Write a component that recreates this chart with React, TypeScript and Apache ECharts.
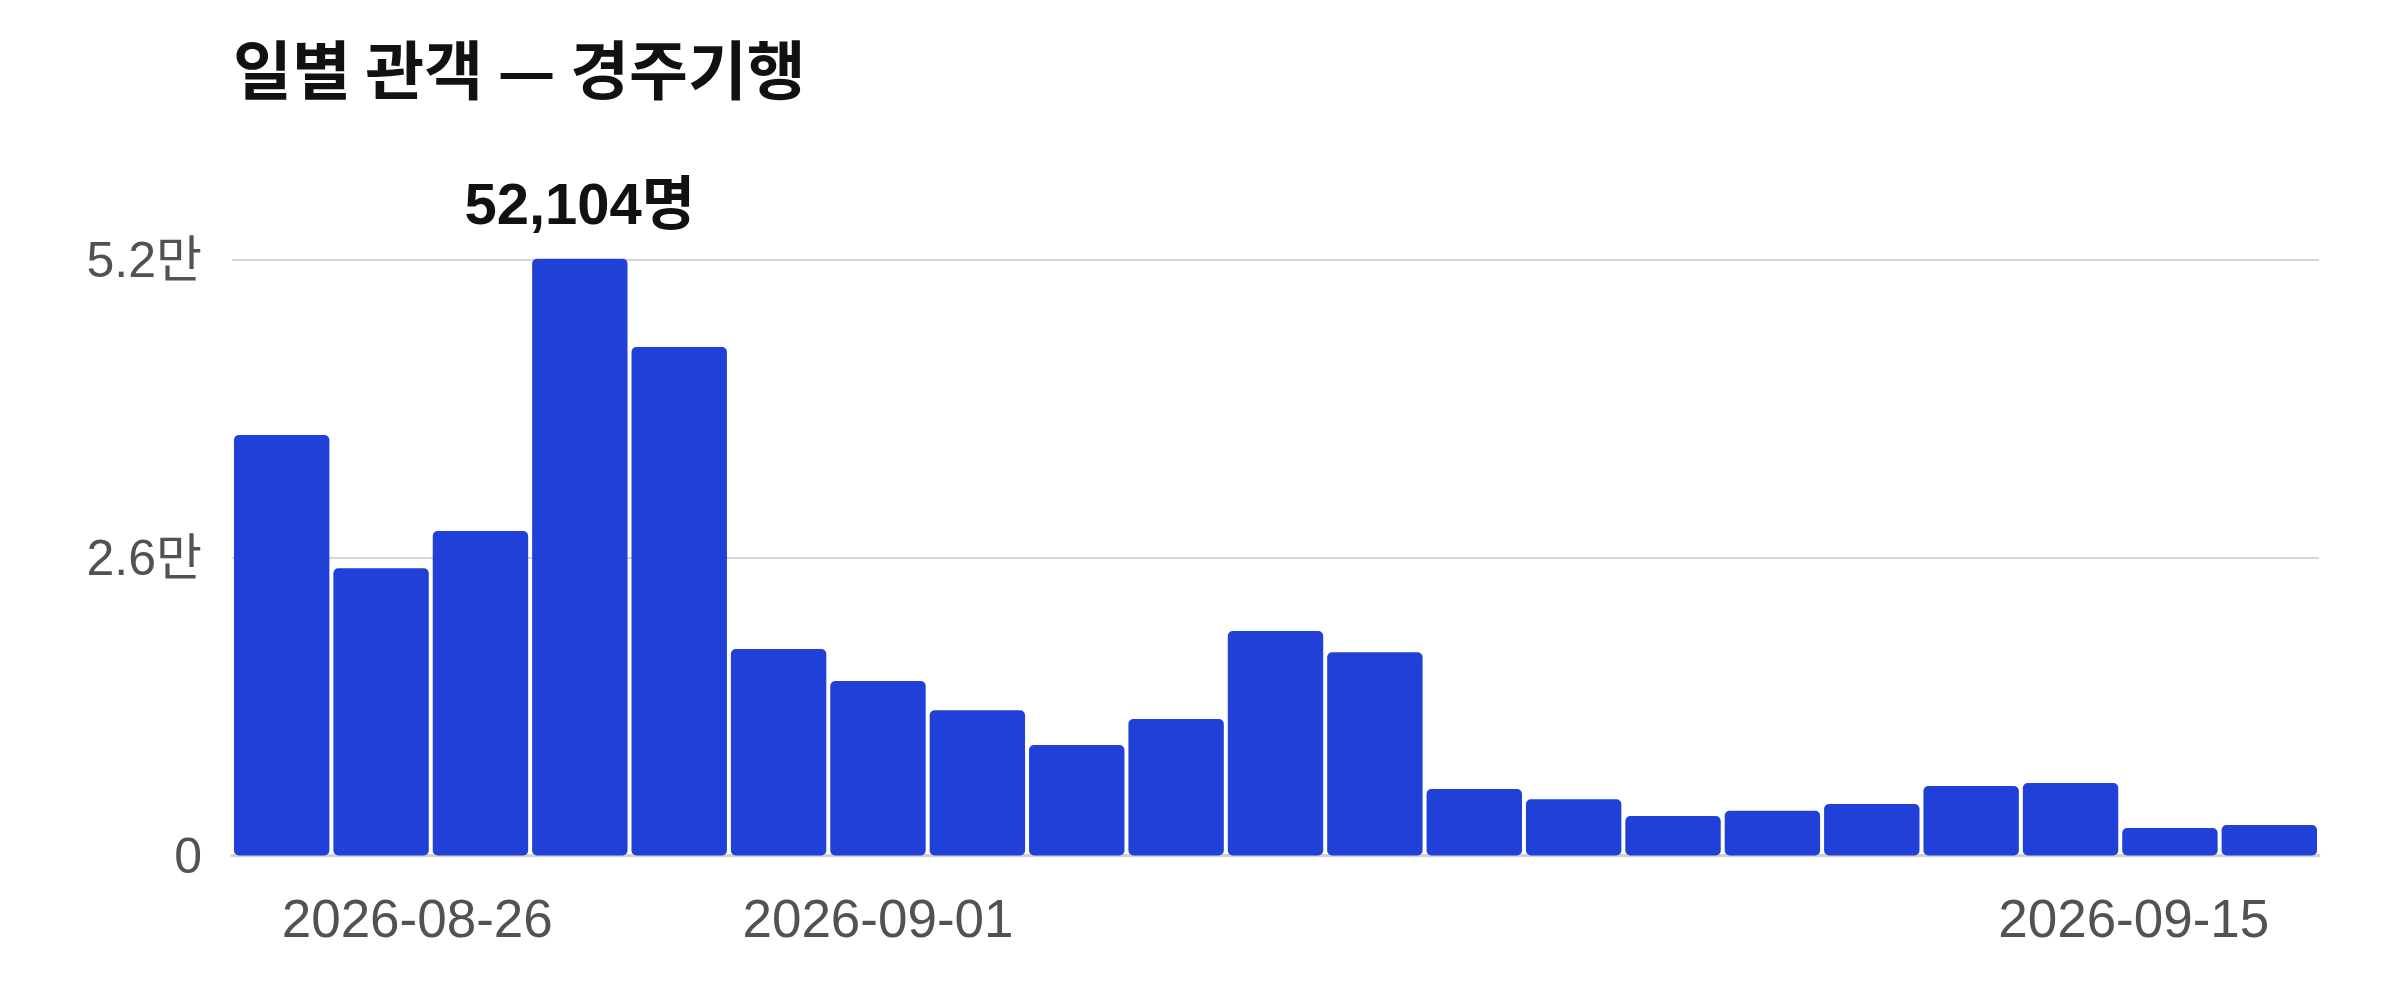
import React, { useEffect, useRef } from "react";
import * as echarts from "echarts";

const titleText = "일별 관객 — 경주기행";
const dates = [
  "2026-08-26", "2026-08-27", "2026-08-28", "2026-08-29", "2026-08-30", "2026-08-31",
  "2026-09-01", "2026-09-02", "2026-09-03", "2026-09-04", "2026-09-05", "2026-09-06",
  "2026-09-07", "2026-09-08", "2026-09-09", "2026-09-10", "2026-09-11", "2026-09-12",
  "2026-09-13", "2026-09-14", "2026-09-15",
];
const visitors = [
  36720, 25080, 28340, 52104, 44400, 18030, 15240, 12680, 9650, 11920, 19600,
  17740, 5810, 4910, 3450, 3910, 4500, 6070, 6330, 2400, 2660,
];
const shownDateIdx = [0, 6, 20];
const yMax = 52000;
const yInterval = 26000;

const FONT = "'Liberation Sans', Arial, 'Noto Sans CJK KR', sans-serif";
const CJK_FONT = "'Noto Sans CJK KR', sans-serif";

export default function App() {
  const ref = useRef<HTMLDivElement>(null);

  useEffect(() => {
    document.body.style.margin = "0";
    const chart = echarts.init(ref.current!, null, { renderer: "svg" });
    const maxVal = Math.max(...visitors);
    const maxIdx = visitors.indexOf(maxVal);
    const last = dates.length - 1;

    chart.setOption({
      animation: false,
      backgroundColor: "#ffffff",
      title: {
        text: titleText,
        left: 233,
        top: 34,
        padding: 0,
        textStyle: {
          fontFamily: CJK_FONT,
          fontSize: 64,
          fontWeight: "bold",
          color: "#111111",
        },
      },
      grid: { left: 232, right: 81, top: 260, bottom: 144.5, containLabel: false },
      xAxis: {
        type: "category",
        data: dates.map((d, i) => ({
          value: d,
          textStyle: { align: i === 0 ? "left" : i === last ? "right" : "center" },
        })),
        axisTick: { show: false },
        axisLine: { lineStyle: { color: "#d0d0d0", width: 3 } },
        axisLabel: {
          interval: (idx: number) => shownDateIdx.includes(idx),
          margin: 36,
          fontSize: 53,
          fontFamily: FONT,
          color: "#525250",
        },
      },
      yAxis: {
        type: "value",
        min: 0,
        max: yMax,
        interval: yInterval,
        axisLine: { show: false },
        axisTick: { show: false },
        splitLine: { lineStyle: { color: "#d6d6d6", width: 2 } },
        axisLabel: {
          margin: 30,
          fontSize: 50,
          fontFamily: FONT,
          color: "#525250",
          formatter: (v: number) => (v === 0 ? "0" : (v / 10000).toFixed(1) + "만"),
        },
      },
      series: [
        {
          type: "bar",
          clip: false,
          barCategoryGap: "4%",
          itemStyle: { color: "#2040d8", borderRadius: 5 },
          data: visitors.map((v, i) =>
            i === maxIdx
              ? {
                  value: v,
                  label: {
                    show: true,
                    position: "top",
                    distance: 26,
                    fontSize: 58,
                    fontWeight: "bold",
                    fontFamily: FONT,
                    color: "#111111",
                    formatter: (p: any) => p.value.toLocaleString("en-US") + "명",
                  },
                }
              : v
          ),
        },
      ],
    });
    return () => chart.dispose();
  }, []);

  return <div ref={ref} style={{ width: 2400, height: 1000 }} />;
}
